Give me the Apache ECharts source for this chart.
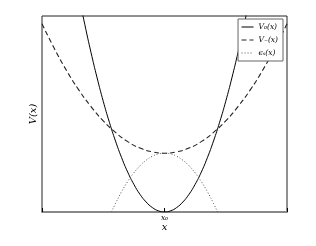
<!DOCTYPE html>
<html><head><meta charset="utf-8">
<script src="https://cdn.jsdelivr.net/npm/echarts@6/dist/echarts.min.js"></script>
<style>html,body{margin:0;padding:0;background:#fff}#c{width:316px;height:246px}</style>
</head><body><div id="c"></div>
<script>
// V0(x) sampled
const xV0 = [-0.70,-0.65,-0.60,-0.55,-0.50,-0.45,-0.40,-0.35,-0.30,-0.25,-0.20,-0.15,-0.10,-0.05,0,0.05,0.10,0.15,0.20,0.25,0.30,0.35,0.40,0.45,0.50,0.55,0.60,0.65,0.70];
const yV0 = [1.107,0.955,0.814,0.684,0.565,0.458,0.362,0.277,0.203,0.141,0.090,0.051,0.023,0.006,0,0.006,0.023,0.051,0.090,0.141,0.203,0.277,0.362,0.458,0.565,0.684,0.814,0.955,1.107];
// V_(x)
const xVm = [-1.0,-0.9,-0.8,-0.7,-0.6,-0.5,-0.4,-0.3,-0.2,-0.1,0,0.1,0.2,0.3,0.4,0.5,0.6,0.7,0.8,0.9,1.0];
const yVm = [0.96,0.835,0.722,0.623,0.538,0.465,0.406,0.359,0.326,0.307,0.300,0.307,0.326,0.359,0.406,0.465,0.538,0.623,0.722,0.835,0.96];
// eps_s(x)
const xEp = [-0.433,-0.40,-0.35,-0.30,-0.25,-0.20,-0.15,-0.10,-0.05,0,0.05,0.10,0.15,0.20,0.25,0.30,0.35,0.40,0.433];
const yEp = [0,0.044,0.104,0.156,0.200,0.236,0.264,0.284,0.296,0.300,0.296,0.284,0.264,0.236,0.200,0.156,0.104,0.044,0];
const names = ['V₀(x)','V₋(x)','ϵₛ(x)'];
const zip = (a,b)=>a.map((v,i)=>[v,b[i]]);
const serif = 'DejaVu Serif';
const chart = echarts.init(document.getElementById('c'));
chart.setOption({
  animation:false,
  grid:{left:42,right:29,top:16,bottom:34,show:true,backgroundColor:'#fff',borderColor:'#222',borderWidth:1},
  legend:{orient:'vertical',right:33,top:19,itemWidth:12,itemHeight:6,itemGap:5,padding:[4,5,4,3],
    borderColor:'#666',borderWidth:1,backgroundColor:'#fff',
    itemStyle:{opacity:0},lineStyle:{width:1},
    textStyle:{fontFamily:serif,fontStyle:'italic',fontSize:7.5,color:'#000'},data:names},
  xAxis:{type:'value',min:-1,max:1,interval:1,name:'x',nameLocation:'middle',nameGap:10,nameMoveOverlap:false,
    nameTextStyle:{fontFamily:serif,fontStyle:'italic',fontSize:10,color:'#000'},
    axisLine:{show:true,lineStyle:{color:'#888',width:2}},splitLine:{show:false},
    axisTick:{show:true,inside:true,length:4,lineStyle:{color:'#000'}},
    axisLabel:{margin:2,fontFamily:serif,fontStyle:'italic',fontSize:7.5,color:'#000',
      formatter:v=>v===0?'x₀':''}},
  yAxis:{type:'value',min:0,max:1,name:'V(x)',nameLocation:'middle',nameGap:4,nameRotate:90,nameMoveOverlap:false,
    nameTextStyle:{fontFamily:serif,fontStyle:'italic',fontSize:10,color:'#000'},
    axisLine:{show:false},axisTick:{show:false},axisLabel:{show:false},splitLine:{show:false}},
  series:[
    {name:names[0],type:'line',data:zip(xV0,yV0),smooth:true,symbol:'none',clip:true,
     lineStyle:{color:'#000',width:1,type:'solid'},itemStyle:{color:'#000'}},
    {name:names[1],type:'line',data:zip(xVm,yVm),smooth:true,symbol:'none',clip:true,
     lineStyle:{color:'#222',width:1.1,type:[5,3]},itemStyle:{color:'#222'}},
    {name:names[2],type:'line',data:zip(xEp,yEp),smooth:true,symbol:'none',clip:true,
     lineStyle:{color:'#555',width:1,type:[1,2]},itemStyle:{color:'#555'}}
  ]
});
</script></body></html>
